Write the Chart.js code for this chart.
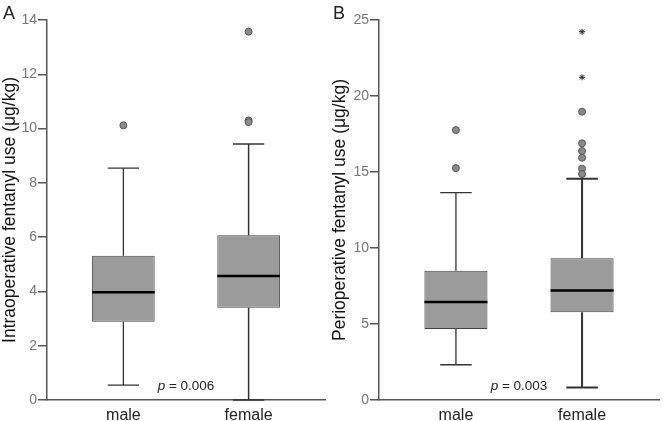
<!DOCTYPE html>
<html>
<head>
<meta charset="utf-8">
<script src="https://cdn.jsdelivr.net/npm/chart.js@4"></script>
<style>
  body { margin: 0; background: #fff; }
  #wrap { position: relative; width: 664px; height: 421px; }
  canvas { position: absolute; top: 0; }
  #chartA { left: 0; }
  #chartB { left: 330px; }
</style>
</head>
<body>
<div id="wrap">
  <canvas id="chartA" width="330" height="421"></canvas>
  <canvas id="chartB" width="334" height="421"></canvas>
</div>
<script>
const groups = ['male', 'female'];

// Panel A - intraoperative fentanyl (ug/kg)
const aQ1 = [2.88, 3.40];
const aQ3 = [5.31, 6.07];
const aMedian = [3.97, 4.57];
const aLow = [0.55, 0];
const aHigh = [8.54, 9.43];
const aOutMale = [10.12];
const aOutFemale = [13.57, 10.30, 10.24];
const aTicks = [0, 2, 4, 6, 8, 10, 12, 14];

// Panel B - perioperative fentanyl (ug/kg)
const bQ1 = [4.67, 5.77];
const bQ3 = [8.51, 9.32];
const bMedian = [6.45, 7.21];
const bLow = [2.32, 0.83];
const bHigh = [13.64, 14.56];
const bOutMale = [17.76, 15.26];
const bOutFemale = [18.97, 16.89, 16.38, 15.94, 15.22, 14.87];
const bExtFemale = [24.23, 21.23];
const bTicks = [0, 5, 10, 15, 20, 25];

const FONT = "'Liberation Sans', Arial, sans-serif";

// whiskers, caps and median lines drawn through the chart's scales
const boxLines = {
  id: 'boxLines',
  afterDatasetsDraw(chart, args, opts) {
    const { ctx } = chart;
    const x = chart.scales.x, y = chart.scales.y;
    const meta = chart.getDatasetMeta(0);
    ctx.save();
    opts.low.forEach((lo, i) => {
      const bar = meta.data[i];
      const cx = x.getPixelForValue(i + 1);
      const half = bar.width / 2;
      const cap = half / 2;
      ctx.strokeStyle = '#333';
      ctx.lineWidth = opts.whiskerWidth[i];
      ctx.beginPath();
      ctx.moveTo(cx, y.getPixelForValue(opts.q3[i]));
      ctx.lineTo(cx, y.getPixelForValue(opts.high[i]));
      ctx.moveTo(cx - cap, y.getPixelForValue(opts.high[i]));
      ctx.lineTo(cx + cap, y.getPixelForValue(opts.high[i]));
      ctx.moveTo(cx, y.getPixelForValue(opts.q1[i]));
      ctx.lineTo(cx, y.getPixelForValue(lo));
      ctx.moveTo(cx - cap, y.getPixelForValue(lo));
      ctx.lineTo(cx + cap, y.getPixelForValue(lo));
      ctx.stroke();
      ctx.strokeStyle = '#000';
      ctx.lineWidth = 2.5;
      ctx.beginPath();
      ctx.moveTo(cx - half, y.getPixelForValue(opts.median[i]));
      ctx.lineTo(cx + half, y.getPixelForValue(opts.median[i]));
      ctx.stroke();
    });
    // p value text, anchored in data units
    const px = x.getPixelForValue(opts.pAt[0]);
    const py = y.getPixelForValue(opts.pAt[1]);
    ctx.fillStyle = '#222';
    ctx.textBaseline = 'middle';
    const rest = ' = ' + opts.pValue;
    ctx.font = '13.5px ' + FONT;
    const wRest = ctx.measureText(rest).width;
    ctx.font = 'italic 13.5px ' + FONT;
    const wP = ctx.measureText('p').width;
    const start = px - (wP + wRest) / 2;
    ctx.textAlign = 'left';
    ctx.fillText('p', start, py);
    ctx.font = '13.5px ' + FONT;
    ctx.fillText(rest, start + wP, py);
    // panel letter
    ctx.font = '18px ' + FONT;
    ctx.textBaseline = 'alphabetic';
    ctx.fillText(opts.letter, 3, 19);
    ctx.restore();
  }
};

function points(xv, values) {
  return values.map(v => ({ x: xv, y: v }));
}

function makePanel(id, p) {
  new Chart(document.getElementById(id), {
    type: 'bar',
    data: {
      datasets: [
        {
          data: p.q1.map((q, i) => ({ x: i + 1, y: [q, p.q3[i]] })),
          backgroundColor: '#9b9b9b',
          borderColor: '#444',
          borderWidth: 1,
          borderSkipped: false,
          barPercentage: 0.5,
          categoryPercentage: 1.0
        },
        {
          type: 'scatter',
          data: points(1, p.outMale).concat(points(2, p.outFemale)),
          pointStyle: 'circle',
          pointRadius: p.radius,
          backgroundColor: '#8a8a8a',
          borderColor: '#555',
          borderWidth: 1
        },
        {
          type: 'scatter',
          data: points(2, p.extFemale),
          pointStyle: 'star',
          pointRadius: 3,
          borderColor: '#222',
          borderWidth: 1
        }
      ]
    },
    options: {
      responsive: false,
      animation: false,
      layout: { padding: { top: 20, right: p.padRight, left: 0, bottom: 0 } },
      plugins: {
        legend: { display: false },
        tooltip: { enabled: false },
        boxLines: {
          q1: p.q1, q3: p.q3, median: p.median, low: p.low, high: p.high,
          whiskerWidth: p.whiskerWidth, pAt: p.pAt, pValue: p.pValue, letter: p.letter
        }
      },
      scales: {
        x: {
          type: 'linear',
          offset: false,
          min: 0.39,
          max: 2.61,
          afterBuildTicks: s => { s.ticks = [{ value: 1 }, { value: 2 }]; },
          afterFit: s => { s.height = 21; },
          grid: { display: false, offset: false },
          border: { display: true, color: '#555', width: 1.5 },
          ticks: {
            callback: v => groups[v - 1],
            color: '#222',
            padding: -2,
            font: { family: FONT, size: 16 }
          }
        },
        y: {
          min: 0,
          max: p.max,
          afterBuildTicks: s => { s.ticks = p.ticks.map(v => ({ value: v })); },
          afterFit: s => { s.width = p.axisLeft; },
          grid: { drawOnChartArea: false, drawTicks: true, tickLength: 9, color: '#555', lineWidth: 1.5 },
          border: { display: true, color: '#555', width: 1.5 },
          ticks: {
            color: '#777',
            padding: 1,
            font: { family: FONT, size: 14 }
          },
          title: {
            display: true,
            text: p.title,
            color: '#111',
            padding: { top: 0, bottom: 0 },
            font: { family: FONT, size: 17.5 }
          }
        }
      }
    },
    plugins: [boxLines]
  });
}

makePanel('chartA', {
  q1: aQ1, q3: aQ3, median: aMedian, low: aLow, high: aHigh,
  outMale: aOutMale, outFemale: aOutFemale, extFemale: [],
  ticks: aTicks, max: 14, radius: 3.5, whiskerWidth: [1.3, 1.5],
  title: 'Intraoperative fentanyl use (μg/kg)',
  pAt: [1.5, 0.52], pValue: '0.006', letter: 'A',
  axisLeft: 47, padRight: 4
});

makePanel('chartB', {
  q1: bQ1, q3: bQ3, median: bMedian, low: bLow, high: bHigh,
  outMale: bOutMale, outFemale: bOutFemale, extFemale: bExtFemale,
  ticks: bTicks, max: 25, radius: 3.5, whiskerWidth: [1.3, 2],
  title: 'Perioperative fentanyl use (μg/kg)',
  pAt: [1.5, 0.92], pValue: '0.003', letter: 'B',
  axisLeft: 49, padRight: 4
});
</script>
</body>
</html>
